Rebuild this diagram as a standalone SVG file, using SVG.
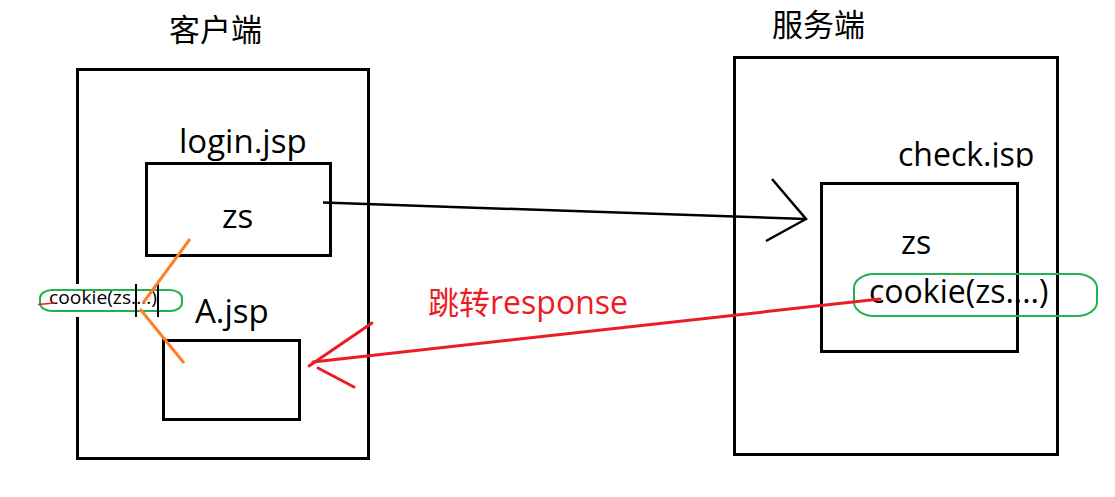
<svg xmlns="http://www.w3.org/2000/svg" width="1115" height="497" viewBox="0 0 1115 497">
<style>
.box{fill:none;stroke:#000;stroke-width:3}
.t{font-family:"Open Sans","Noto Sans","Noto Sans CJK SC",sans-serif;fill:#000}
.cjk{font-family:"Noto Sans CJK SC","Noto Sans",sans-serif;fill:#000;font-size:31px}
.red{stroke:#ed1c24;stroke-width:3;fill:none;stroke-linecap:round}
.org{stroke:#ff7f27;stroke-width:3;fill:none}
.grn{stroke:#22b14c;stroke-width:2;fill:none}
</style>
<defs>
<clipPath id="clipCheck"><rect x="880" y="120" width="170" height="47.5"/></clipPath>
</defs>
<rect width="1115" height="497" fill="#fff"/>

<g id="client">
<text class="cjk" x="169" y="41">客户端</text>
<rect class="box" x="77.5" y="69.5" width="291" height="389"/>
</g>

<g id="server">
<text class="cjk" x="772" y="36">服务端</text>
<rect class="box" x="734.5" y="57.5" width="323" height="397"/>
</g>

<g id="login">
<text class="t" x="179" y="153" font-size="33">login.jsp</text>
<rect class="box" x="146.5" y="163.5" width="184" height="92"/>
<text class="t" x="222" y="228" font-size="33">zs</text>
</g>

<g id="ajsp">
<text class="t" x="195" y="323" font-size="33">A.jsp</text>
<rect class="box" x="163.5" y="340.5" width="136" height="79"/>
</g>

<g id="check">
<text class="t" x="898" y="166" font-size="32" clip-path="url(#clipCheck)">check.jsp</text>
<rect class="box" x="821.5" y="183.5" width="196" height="168"/>
<text class="t" x="901" y="254" font-size="32">zs</text>
<rect class="grn" x="854" y="274" width="243" height="42" rx="20" ry="14"/>
<text class="t" x="869" y="303" font-size="32">cookie(zs....)</text>
</g>

<g id="cookie-note">
<rect x="44" y="284" width="114" height="33" fill="#fff"/>
<rect class="grn" x="40" y="290" width="142" height="21" rx="12" ry="8"/>
<text class="t" x="49" y="304" font-size="18" textLength="108" lengthAdjust="spacingAndGlyphs">cookie(zs....)</text>
<line x1="136" y1="284" x2="136" y2="317" stroke="#000" stroke-width="2"/>
<line x1="158" y1="284" x2="158" y2="317" stroke="#000" stroke-width="2"/>
<line x1="38" y1="304.5" x2="55" y2="303" stroke="#ed1c24" stroke-width="1.5"/>
</g>

<g id="connectors">
<line x1="323" y1="202.5" x2="806" y2="219" stroke="#000" stroke-width="2.5"/>
<polyline points="772,179 806,219 766,241" fill="none" stroke="#000" stroke-width="2.5"/>
<line class="red" x1="880" y1="299" x2="313" y2="362"/>
<line class="red" x1="372" y1="323" x2="309" y2="366"/>
<line class="red" x1="318" y1="368" x2="354" y2="387"/>
<line class="org" x1="190" y1="239" x2="143" y2="303"/>
<line class="org" x1="140" y1="309" x2="184" y2="363"/>
<text x="428" y="314" font-size="31" fill="#ed1c24" font-family="Noto Sans CJK SC, Open Sans, sans-serif">跳转<tspan font-family="Open Sans, Noto Sans, sans-serif" font-size="32">response</tspan></text>
</g>
</svg>
